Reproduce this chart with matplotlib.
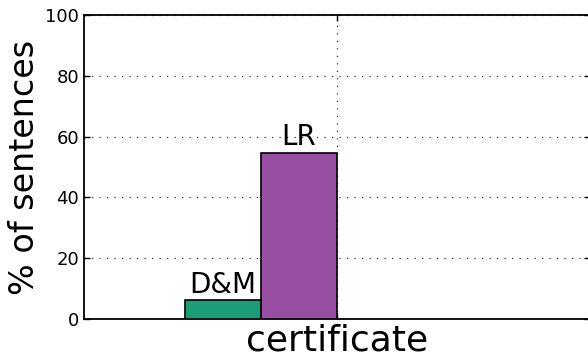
import matplotlib.pyplot as plt
import numpy as np

# ----------------------------------------------------------------------
# Data
# ----------------------------------------------------------------------

categories = ["certificate"]
methods = ["D&M", "LR"]
values = [6.2, 54.7]
colors = ["#1b9e77", "#984ea3"]

bar_width = 0.3

# ----------------------------------------------------------------------
# Plot
# ----------------------------------------------------------------------

fig = plt.figure(figsize=(5.88, 3.58), dpi=100)
ax = fig.add_axes([84 / 588, 1 - 319 / 358, 506 / 588, 304 / 358])

x = np.arange(len(categories))
offsets = [-2 * bar_width, -bar_width]

for name, val, col, off in zip(methods, values, colors, offsets):
    ax.bar(x + off, [val], width=bar_width, align="edge", color=col,
           edgecolor="black", linewidth=1.2, zorder=3)
    ax.text(x[0] + off + bar_width / 2, val + 0.5, name, ha="center",
            va="bottom", fontsize=20)

ax.set_xlim(-1, 1)
ax.set_ylim(0, 100)
ax.set_yticks(np.arange(0, 101, 20))
ax.set_xticks(x)
ax.set_xticklabels(categories, fontsize=26)
ax.set_ylabel("% of sentences", fontsize=24, labelpad=3)

ax.tick_params(axis="both", direction="in", top=True, right=True,
               length=4, width=1)
ax.tick_params(axis="y", labelsize=13)
ax.tick_params(axis="x", pad=3)

ax.grid(True, linestyle=(0, (1, 5)), color="#333333", linewidth=0.9, zorder=0)
ax.set_axisbelow(True)

for sp in ax.spines.values():
    sp.set_linewidth(1.3)

fig.savefig("out.png", dpi=100)
